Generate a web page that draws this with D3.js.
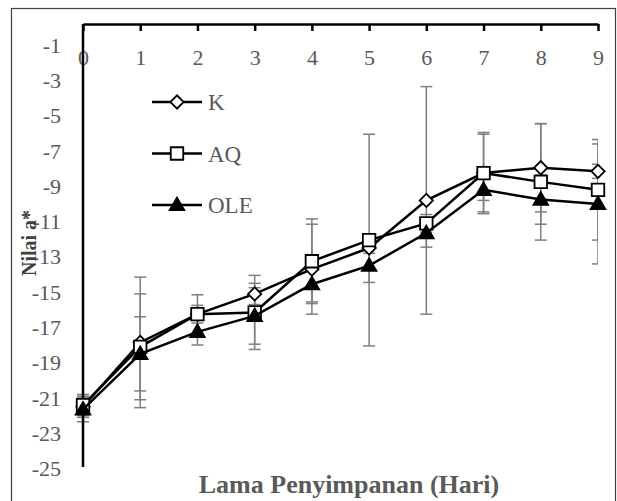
<!DOCTYPE html>
<html>
<head>
<meta charset="utf-8">
<script src="https://cdn.jsdelivr.net/npm/d3@7"></script>
<style>
  body { margin: 0; background: #fff; }
  svg { display: block; }
  svg text { font-family: "Liberation Serif", "Times New Roman", Times, "DejaVu Serif", serif; }
</style>
</head>
<body>
<svg width="617" height="501"></svg>
<script>
// Nilai a* over storage days, three treatments with error bars

const days = [0, 1, 2, 3, 4, 5, 6, 7, 8, 9];
const yTicks = [-25, -23, -21, -19, -17, -15, -13, -11, -9, -7, -5, -3, -1];

const seriesNames = ["K", "AQ", "OLE"];
const kValues = [-21.7, -18.05, -16.45, -15.3, -13.9, -12.7, -10.0, -8.45, -8.15, -8.35];
const aqValues = [-21.6, -18.3, -16.45, -16.35, -13.45, -12.25, -11.3, -8.45, -8.95, -9.4];
const oleValues = [-21.85, -18.7, -17.45, -16.55, -14.75, -13.7, -11.85, -9.4, -9.95, -10.2];

const kErr = [0.6, 3.7, 1.1, 0.6, 2.55, 0.3, 6.45, 2.2, 2.5, 0.4];
const aqErr = [0.6, 3.0, 0.5, 2.1, 2.4, 6.0, 0.5, 2.3, 3.3, 2.85];
const oleErr = [0.7, 2.1, 0.75, 1.6, 1.0, 0.95, 0.8, 0.6, 1.4, 3.4];

const series = [
  { name: seriesNames[0], values: kValues, err: kErr, marker: "diamond" },
  { name: seriesNames[1], values: aqValues, err: aqErr, marker: "square" },
  { name: seriesNames[2], values: oleValues, err: oleErr, marker: "triangle" },
];

const svg = d3.select("svg");
const grey = "#595959";

const x = d3.scaleLinear().domain([0, 9]).range([83, 598]);
const y = d3.scaleLinear().domain([-25, 0]).range([465, 24]);

// outer frame
svg.append("rect")
  .attr("x", 11.5).attr("y", 8.5)
  .attr("width", 604).attr("height", 500)
  .attr("fill", "none").attr("stroke", "#404040").attr("stroke-width", 1.2);

svg.append("clipPath").attr("id", "plotclip")
  .append("rect").attr("x", 0).attr("y", 0).attr("width", 598).attr("height", 501);

const markerPath = (type) => {
  if (type === "diamond") return d3.symbol(d3.symbolSquare, 88)();
  if (type === "square") return d3.symbol(d3.symbolSquare, 156)();
  return d3.symbol(d3.symbolTriangle, 92)();
};

const drawMarker = (g, type) => {
  g.append("path")
    .attr("d", markerPath(type))
    .attr("transform", type === "diamond" ? "rotate(45)" : type === "triangle" ? "translate(0,1)" : null)
    .attr("fill", type === "triangle" ? "#000" : "#fff")
    .attr("stroke", "#000")
    .attr("stroke-width", 1.8);
};

// error bars first, behind everything
const errG = svg.append("g").attr("clip-path", "url(#plotclip)");
series.forEach((s) => {
  days.forEach((d, i) => {
    const top = y(s.values[i] + s.err[i]);
    const bot = y(s.values[i] - s.err[i]);
    const cx = x(d);
    const g = errG.append("g").attr("stroke", "#7f7f7f").attr("stroke-width", 1.5);
    g.append("line").attr("x1", cx).attr("x2", cx).attr("y1", top).attr("y2", bot);
    g.append("line").attr("x1", cx - 6).attr("x2", cx + 6).attr("y1", top).attr("y2", top);
    g.append("line").attr("x1", cx - 6).attr("x2", cx + 6).attr("y1", bot).attr("y2", bot);
  });
});

// axes
const xAxis = d3.axisBottom(x).tickValues(days).tickSizeInner(7).tickSizeOuter(0).tickPadding(18);
const xg = svg.append("g").attr("transform", "translate(0,24)").call(xAxis)
  .attr("font-family", null);
xg.select(".domain").attr("stroke", "#000").attr("stroke-width", 2.5);
xg.selectAll(".tick line").attr("stroke", "#000").attr("stroke-width", 2.5);
xg.selectAll("text").attr("fill", grey).attr("font-size", 22);

const yAxis = d3.axisLeft(y).tickValues(yTicks).tickSize(0).tickPadding(22)
  .tickFormat((d) => String(d));
const yg = svg.append("g").attr("transform", "translate(83,0)").call(yAxis)
  .attr("font-family", null);
yg.select(".domain").attr("stroke", "#000").attr("stroke-width", 2.5)
  .attr("d", "M0,24V467");
yg.selectAll("text").attr("fill", grey).attr("font-size", 22).attr("dy", "0.48em");

// lines and markers
const line = d3.line().x((d, i) => x(days[i])).y((d) => y(d));
series.forEach((s) => {
  svg.append("path")
    .datum(s.values)
    .attr("d", line)
    .attr("fill", "none")
    .attr("stroke", "#000")
    .attr("stroke-width", 2.5);
  s.values.forEach((v, i) => {
    const g = svg.append("g").attr("transform", `translate(${x(days[i])},${y(v)})`);
    drawMarker(g, s.marker);
  });
});

// legend
series.forEach((s, i) => {
  const ly = 102 + i * 51.5;
  const g = svg.append("g").attr("transform", `translate(0,${ly})`);
  g.append("line").attr("x1", 152).attr("x2", 202).attr("y1", 0).attr("y2", 0)
    .attr("stroke", "#000").attr("stroke-width", 2.5);
  const m = g.append("g").attr("transform", "translate(177,0)");
  drawMarker(m, s.marker);
  g.append("text").attr("x", 208).attr("y", 8)
    .attr("font-size", 23).attr("fill", grey).text(s.name);
});

// axis titles
svg.append("text")
  .attr("x", 349).attr("y", 493)
  .attr("text-anchor", "middle")
  .attr("font-size", 26).attr("font-weight", "bold").attr("fill", grey)
  .text("Lama Penyimpanan (Hari)");

svg.append("text")
  .attr("transform", "translate(36,243) rotate(-90)")
  .attr("text-anchor", "middle")
  .attr("font-size", 20).attr("font-weight", "bold").attr("fill", "#404040")
  .text("Nilai a*");
</script>
</body>
</html>
